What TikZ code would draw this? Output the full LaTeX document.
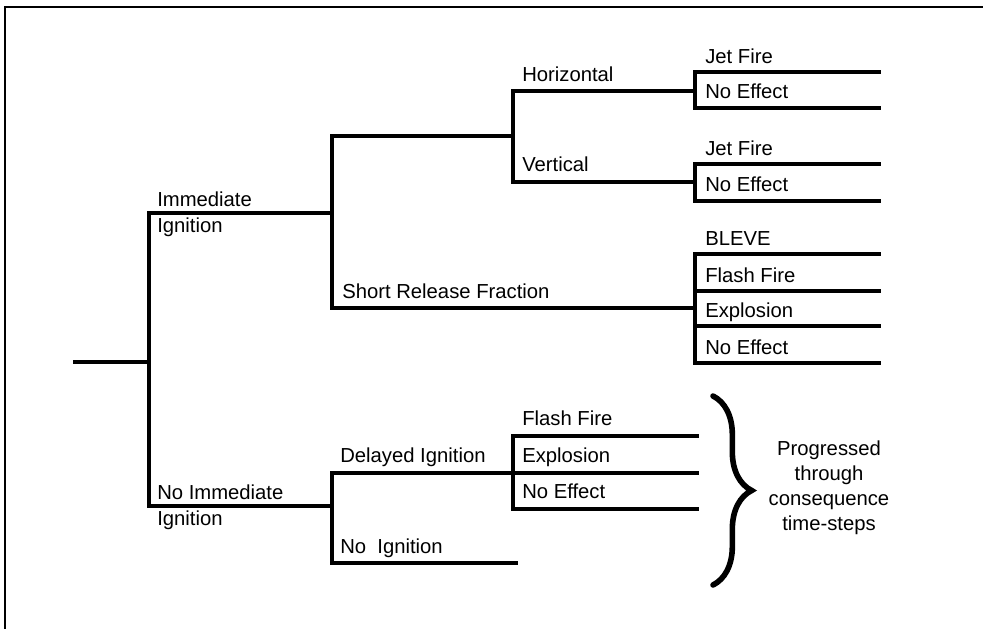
\documentclass[tikz,border=0pt]{standalone}
\usepackage{fontspec}
\setmainfont{Liberation Sans}
\usetikzlibrary{decorations.pathreplacing}

\begin{document}
\begin{tikzpicture}
	[x=0.75pt,y=-0.75pt,line cap=rect,
	%Styles
	branch/.style={line width=2.7pt},
	frame line/.style={line width=1.8pt},
	label text/.style={anchor=base west,inner sep=0pt,font=\fontsize{15.2}{19.5}\selectfont},
	two line/.style={anchor=west,inner sep=0pt,align=left,font=\fontsize{15.2}{19.5}\selectfont},
	note text/.style={inner sep=0pt,align=center,font=\fontsize{15.2}{18.75}\selectfont},
	curly/.style={decorate,decoration={brace,amplitude=29pt},line width=4.2pt,line cap=round}
	]
	
	\useasboundingbox (0,0) rectangle (983,629);
	
	%Frame
	\draw[frame line] (983,7) -- (5,7) -- (5,629);
	
	%Junctions
	\coordinate (root) at (75,362);
	\coordinate (fork) at (149,362);
	\coordinate (imm) at (332,213);
	\coordinate (noimm) at (332,506);
	\coordinate (hv) at (513,136);
	\coordinate (srf) at (695,308);
	\coordinate (hor) at (695,91);
	\coordinate (ver) at (695,182);
	\coordinate (di) at (513,473);
	
	%Free ends
	\coordinate (jf1) at (879,72);
	\coordinate (ne1) at (879,108);
	\coordinate (jf2) at (879,164);
	\coordinate (ne2) at (879,201);
	\coordinate (bl) at (879,254);
	\coordinate (ff1) at (879,291);
	\coordinate (ex1) at (879,326);
	\coordinate (ne3) at (879,363);
	\coordinate (ff2) at (697,436);
	\coordinate (ex2) at (697,473);
	\coordinate (ne4) at (697,509);
	\coordinate (noign) at (516,563);
	
	%The tree
	\draw[branch] (root) -- (fork);
	\draw[branch] (imm) -| (fork) |- (noimm);
	\draw[branch] (hv) -| (imm) |- (srf);
	\draw[branch] (hor) -| (hv) |- (ver);
	\draw[branch] (jf1) -| (hor) |- (ne1);
	\draw[branch] (jf2) -| (ver) |- (ne2);
	\draw[branch] (bl) -| (srf) |- (ne3);
	\draw[branch] (ff1) -- (ff1 -| srf);
	\draw[branch] (ex1) -- (ex1 -| srf);
	\draw[branch] (di) -| (noimm) |- (noign);
	\draw[branch] (ff2) -| (di) |- (ne4);
	\draw[branch] (di) -- (ex2);
	
	%Labels
	\node[two line] (l-imm) at (157,214) {Immediate\\Ignition};
	\node[two line] (l-noimm) at (157,507) {No Immediate\\Ignition};
	\node[label text] (l-hor) at (522,81) {Horizontal};
	\node[label text] (l-ver) at (522,171) {Vertical};
	\node[label text] (l-srf) at (342,298) {Short Release Fraction};
	\node[label text] (l-jf1) at (705,63) {Jet Fire};
	\node[label text] (l-ne1) at (705,98) {No Effect};
	\node[label text] (l-jf2) at (705,155) {Jet Fire};
	\node[label text] (l-ne2) at (705,191) {No Effect};
	\node[label text] (l-bl) at (705,245) {BLEVE};
	\node[label text] (l-ff1) at (705,282) {Flash Fire};
	\node[label text] (l-ex1) at (705,317) {Explosion};
	\node[label text] (l-ne3) at (705,354) {No Effect};
	\node[label text] (l-di) at (340,462) {Delayed Ignition};
	\node[label text] (l-noign) at (340,553) {No\ \ Ignition};
	\node[label text] (l-ff2) at (522,425) {Flash Fire};
	\node[label text] (l-ex2) at (522,462) {Explosion};
	\node[label text] (l-ne4) at (522,498) {No Effect};
	
	%Brace and note
	\coordinate (btop) at (713,396);
	\coordinate (bbot) at (713,585);
	\draw[curly] (btop) -- (bbot);
	\node[note text] (prog) at (829,488) {Progressed\\through\\consequence\\time-steps};
\end{tikzpicture}
\end{document}
